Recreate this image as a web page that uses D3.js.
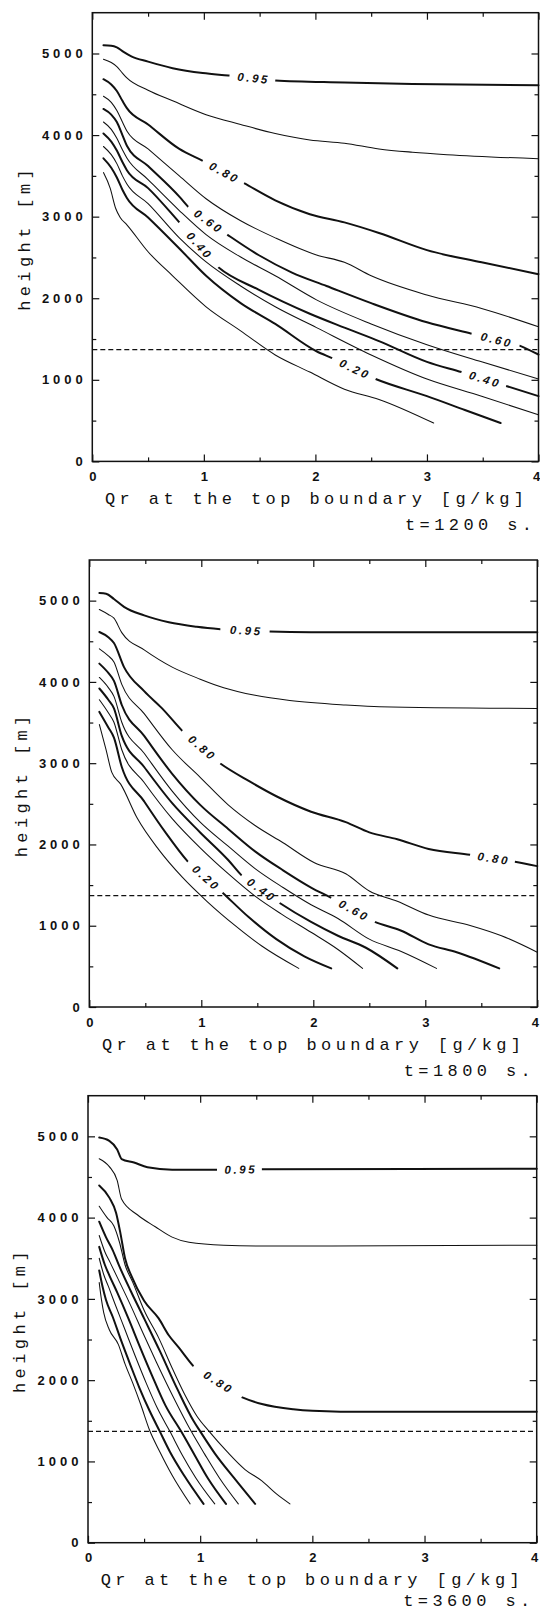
<!DOCTYPE html>
<html>
<head>
<meta charset="utf-8">
<script src="https://cdn.jsdelivr.net/npm/d3@7"></script>
<style>
  html, body { margin: 0; padding: 0; background: #fff; }
  svg { display: block; }
</style>
</head>
<body>
<svg id="fig" width="540" height="1612"></svg>
<script>
// Contour levels, from the top curve down to the bottom one
const levels = [0.95, 0.90, 0.80, 0.70, 0.60, 0.50, 0.40, 0.30, 0.20, 0.10];
const labelledLevels = [0.95, 0.80, 0.60, 0.40, 0.20];
const xTickValues = [0, 1, 2, 3, 4];
const xMinorTicks = [0.5, 1.5, 2.5, 3.5];
const yTickValues = [0, 1000, 2000, 3000, 4000, 5000];
const yMinorTicks = [500, 1500, 2500, 3500, 4500];
const refHeight = 1370;
const xTitle = "Qr at the top boundary [g/kg]";
const yTitle = "height [m]";
const timeLabels = ["t=1200 s.", "t=1800 s.", "t=3600 s."];

// [Qr (g/kg), height (m)] points for each level, t = 1200 s
const curves1200 = [
  [[0.10,5100],[0.17,5095],[0.22,5075],[0.28,5020],[0.35,4965],[0.50,4900],[0.72,4820],[0.99,4760],[1.22,4730],[1.64,4670],[2.26,4645],[2.87,4625],[4.0,4610]],
  [[0.10,4930],[0.17,4890],[0.22,4840],[0.27,4760],[0.31,4700],[0.50,4550],[0.72,4420],[1.02,4250],[1.33,4130],[1.64,4020],[1.95,3940],[2.26,3900],[2.57,3830],[2.87,3790],[3.18,3760],[4.0,3710]],
  [[0.10,4685],[0.17,4620],[0.22,4540],[0.27,4420],[0.31,4330],[0.50,4130],[0.78,3830],[0.99,3685],[1.36,3410],[1.64,3200],[1.95,3030],[2.26,2930],[2.57,2800],[3.0,2590],[3.49,2440],[4.0,2295]],
  [[0.10,4475],[0.17,4400],[0.22,4300],[0.27,4160],[0.31,4050],[0.50,3830],[0.78,3500],[1.02,3220],[1.33,2950],[1.64,2740],[2.01,2530],[2.26,2440],[2.5,2275],[3.0,2040],[3.49,1875],[4.0,1650]],
  [[0.10,4320],[0.17,4250],[0.22,4160],[0.27,4000],[0.31,3870],[0.50,3620],[0.78,3245],[0.86,3120],[1.21,2780],[1.49,2530],[1.79,2315],[2.1,2150],[2.5,1940],[3.0,1705],[3.4,1565],[3.83,1420],[4.0,1310]],
  [[0.10,4160],[0.17,4070],[0.22,3960],[0.27,3820],[0.31,3720],[0.50,3455],[0.78,3075],[1.02,2780],[1.33,2505],[1.64,2275],[2.01,1980],[2.5,1685],[3.0,1430],[3.49,1220],[4.0,1010]],
  [[0.10,4020],[0.17,3920],[0.22,3810],[0.27,3670],[0.31,3570],[0.50,3350],[0.78,2930],[1.13,2380],[1.49,2105],[1.95,1810],[2.26,1640],[2.57,1475],[3.0,1220],[3.31,1095],[3.71,925],[4.0,800]],
  [[0.10,3860],[0.17,3760],[0.22,3650],[0.27,3500],[0.31,3400],[0.50,3160],[0.78,2740],[1.02,2445],[1.33,2150],[1.64,1895],[2.01,1640],[2.5,1305],[3.0,1010],[3.49,800],[4.0,570]],
  [[0.10,3715],[0.17,3600],[0.22,3480],[0.27,3330],[0.31,3230],[0.50,2990],[0.78,2610],[1.02,2275],[1.33,1940],[1.64,1685],[2.01,1350],[2.15,1265],[2.54,1010],[3.0,800],[3.34,630],[3.66,470]],
  [[0.10,3540],[0.16,3350],[0.21,3100],[0.25,2990],[0.31,2900],[0.50,2570],[0.72,2275],[1.02,1895],[1.33,1600],[1.64,1305],[1.95,1095],[2.26,885],[2.57,760],[3.06,470]]
];

// t = 1800 s
const curves1800 = [
  [[0.09,5093],[0.15,5085],[0.22,5020],[0.31,4924],[0.49,4818],[0.71,4733],[0.96,4678],[1.17,4648],[1.61,4619],[1.98,4612],[4.0,4612]],
  [[0.09,4890],[0.17,4830],[0.22,4784],[0.29,4606],[0.49,4394],[0.74,4182],[0.99,4034],[1.2,3928],[1.48,3835],[1.79,3771],[2.29,3716],[2.59,3695],[4.0,3674]],
  [[0.09,4614],[0.17,4550],[0.22,4479],[0.31,4182],[0.49,3886],[0.65,3674],[0.83,3398],[1.17,2996],[1.42,2784],[1.67,2593],[1.98,2403],[2.29,2275],[2.5,2148],[2.75,2064],[3.03,1945],[3.4,1873],[3.8,1788],[4.0,1733]],
  [[0.09,4407],[0.17,4320],[0.22,4246],[0.29,3970],[0.49,3610],[0.74,3165],[0.99,2826],[1.24,2487],[1.48,2233],[1.73,2021],[2.01,1775],[2.29,1640],[2.5,1428],[2.75,1301],[3.03,1131],[3.4,1004],[3.68,877],[4.0,674]],
  [[0.09,4225],[0.17,4110],[0.22,4013],[0.29,3716],[0.49,3335],[0.74,2869],[0.99,2487],[1.24,2191],[1.48,1915],[1.73,1682],[1.98,1470],[2.16,1343],[2.55,1047],[2.78,941],[3.03,771],[3.28,674],[3.66,475]],
  [[0.09,4055],[0.17,3930],[0.22,3822],[0.29,3504],[0.49,3123],[0.74,2657],[0.99,2275],[1.24,1979],[1.48,1703],[1.73,1470],[1.98,1258],[2.22,1089],[2.5,835],[2.78,686],[3.1,475]],
  [[0.09,3919],[0.17,3780],[0.22,3674],[0.29,3335],[0.49,2953],[0.74,2508],[0.99,2148],[1.24,1809],[1.36,1619],[1.70,1280],[1.98,1047],[2.22,877],[2.47,729],[2.75,475]],
  [[0.09,3780],[0.17,3620],[0.22,3504],[0.29,3165],[0.49,2763],[0.74,2318],[0.99,1958],[1.24,1640],[1.48,1364],[1.73,1131],[1.98,919],[2.22,708],[2.44,475]],
  [[0.09,3631],[0.17,3440],[0.22,3314],[0.29,2953],[0.49,2530],[0.68,2148],[0.88,1788],[1.19,1407],[1.42,1110],[1.67,835],[1.92,623],[2.16,475]],
  [[0.09,3475],[0.15,3165],[0.2,2890],[0.28,2742],[0.43,2318],[0.62,1936],[0.83,1597],[1.05,1301],[1.3,1004],[1.54,750],[1.87,475]]
];

// t = 3600 s
const curves3600 = [
  [[0.10,4985],[0.19,4945],[0.26,4839],[0.30,4721],[0.41,4678],[0.53,4620],[0.75,4590],[1.15,4590],[1.55,4595],[4.0,4600]],
  [[0.10,4725],[0.19,4627],[0.26,4458],[0.30,4225],[0.44,4035],[0.60,3887],[0.75,3760],[0.90,3696],[1.21,3660],[1.68,3650],[4.0,3660]],
  [[0.10,4395],[0.19,4246],[0.25,4060],[0.29,3800],[0.33,3500],[0.39,3273],[0.50,2976],[0.63,2760],[0.72,2553],[0.81,2400],[0.94,2172],[1.37,1791],[1.55,1706],[1.83,1643],[2.0,1625],[2.5,1610],[4.0,1610]],
  [[0.10,4140],[0.17,4000],[0.23,3900],[0.28,3700],[0.33,3420],[0.40,3200],[0.50,2860],[0.63,2520],[0.75,2150],[0.86,1830],[0.97,1560],[1.08,1370],[1.24,1120],[1.40,900],[1.55,760],[1.68,600],[1.80,478]],
  [[0.10,3950],[0.16,3760],[0.22,3600],[0.28,3400],[0.38,3100],[0.50,2760],[0.64,2360],[0.80,1880],[0.94,1500],[1.00,1370],[1.13,1100],[1.30,800],[1.49,478]],
  [[0.10,3780],[0.15,3580],[0.20,3440],[0.27,3240],[0.38,2920],[0.49,2580],[0.61,2220],[0.75,1820],[0.92,1370],[1.04,1090],[1.17,800],[1.34,478]],
  [[0.10,3640],[0.15,3420],[0.19,3290],[0.26,3080],[0.36,2760],[0.46,2420],[0.57,2060],[0.69,1690],[0.83,1370],[0.95,1080],[1.07,790],[1.23,478]],
  [[0.10,3500],[0.14,3300],[0.18,3160],[0.24,2940],[0.33,2620],[0.42,2300],[0.52,1960],[0.62,1650],[0.73,1370],[0.84,1080],[0.96,800],[1.13,478]],
  [[0.10,3350],[0.13,3150],[0.16,2990],[0.22,2780],[0.30,2470],[0.38,2180],[0.46,1900],[0.55,1620],[0.64,1370],[0.73,1120],[0.86,820],[1.03,478]],
  [[0.10,3200],[0.12,2990],[0.14,2830],[0.19,2620],[0.27,2440],[0.33,2200],[0.40,1960],[0.47,1700],[0.55,1380],[0.64,1120],[0.75,830],[0.91,478]]
];

// Inline contour labels: curve index and the Qr span the label occupies
const labels1200 = [
  { curve: 0, from: 1.23, to: 1.64 },
  { curve: 2, from: 0.99, to: 1.36 },
  { curve: 4, from: 0.86, to: 1.21 },
  { curve: 6, from: 0.78, to: 1.13 },
  { curve: 8, from: 2.15, to: 2.54 },
  { curve: 4, from: 3.40, to: 3.83 },
  { curve: 6, from: 3.31, to: 3.71 }
];
const labels1800 = [
  { curve: 0, from: 1.17, to: 1.61 },
  { curve: 2, from: 0.83, to: 1.17 },
  { curve: 2, from: 3.40, to: 3.80 },
  { curve: 8, from: 0.88, to: 1.19 },
  { curve: 6, from: 1.36, to: 1.70 },
  { curve: 4, from: 2.16, to: 2.55 }
];
const labels3600 = [
  { curve: 0, from: 1.15, to: 1.55 },
  { curve: 2, from: 0.94, to: 1.37 }
];

// Panel frames (pixels) and text offsets
const panels = [
  { curves: curves1200, labels: labels1200, time: timeLabels[0],
    box: { left: 92.3, right: 538.5, top: 12.7, bottom: 461.4 }, yTitleX: 30, timeDy: 69 },
  { curves: curves1800, labels: labels1800, time: timeLabels[1],
    box: { left: 89.3, right: 537.3, top: 560, bottom: 1007 }, yTitleX: 26.5, timeDy: 69 },
  { curves: curves3600, labels: labels3600, time: timeLabels[2],
    box: { left: 88.0, right: 536.7, top: 1095.7, bottom: 1542.7 }, yTitleX: 25, timeDy: 63 }
];

const INK = "#111";
const tickFont = "'Liberation Sans', Arial, sans-serif";
const monoFont = "'Liberation Mono', 'DejaVu Sans Mono', monospace";
const tickLS = 4.0;
const titleLS = 4.4;
const labelLS = 2.6;

const svg = d3.select("#fig");
const defs = svg.append("defs");

function heightAt(curve, q) {
  for (let i = 0; i < curve.length - 1; i++) {
    const a = curve[i], b = curve[i + 1];
    if (q >= a[0] && q <= b[0]) {
      const t = (q - a[0]) / (b[0] - a[0]);
      return a[1] + t * (b[1] - a[1]);
    }
  }
  return curve[curve.length - 1][1];
}

panels.forEach((p, pi) => {
  const x = d3.scaleLinear().domain([0, 4]).range([p.box.left, p.box.right]);
  const y = d3.scaleLinear().domain([0, 5500]).range([p.box.bottom, p.box.top]);
  const g = svg.append("g").attr("class", "panel");

  const line = d3.line().x(d => x(d[0])).y(d => y(d[1])).curve(d3.curveMonotoneX);

  // Axes with inward ticks on all four sides
  const styleAxis = sel => {
    sel.select(".domain").remove();
    sel.selectAll(".tick line").attr("stroke", INK).attr("stroke-width", 1.2);
    sel.attr("font-family", tickFont).attr("font-size", 13).attr("font-weight", "bold");
    sel.selectAll("text").attr("fill", INK);
  };

  const bottomAxis = g.append("g").attr("transform", `translate(0,${p.box.bottom})`)
    .call(d3.axisBottom(x).tickValues(xTickValues).tickFormat(d3.format("d"))
      .tickSizeInner(-7).tickSizeOuter(0).tickPadding(10.5))
    .call(styleAxis);
  // keep the last tick label inside the page
  bottomAxis.selectAll(".tick text").filter(d => d === 4).attr("dx", -2.5);
  g.append("g").attr("transform", `translate(0,${p.box.bottom})`)
    .call(d3.axisBottom(x).tickValues(xMinorTicks).tickFormat("").tickSizeInner(-4).tickSizeOuter(0))
    .call(styleAxis);
  g.append("g").attr("transform", `translate(0,${p.box.top})`)
    .call(d3.axisTop(x).tickValues(xTickValues).tickFormat("").tickSizeInner(-7).tickSizeOuter(0))
    .call(styleAxis);
  g.append("g").attr("transform", `translate(0,${p.box.top})`)
    .call(d3.axisTop(x).tickValues(xMinorTicks).tickFormat("").tickSizeInner(-4).tickSizeOuter(0))
    .call(styleAxis);

  const leftAxis = g.append("g").attr("transform", `translate(${p.box.left},0)`)
    .call(d3.axisLeft(y).tickValues(yTickValues).tickFormat(d3.format("d"))
      .tickSizeInner(-7).tickSizeOuter(0).tickPadding(5.5))
    .call(styleAxis);
  leftAxis.selectAll("text").attr("letter-spacing", tickLS);
  g.append("g").attr("transform", `translate(${p.box.left},0)`)
    .call(d3.axisLeft(y).tickValues(yMinorTicks).tickFormat("").tickSizeInner(-4).tickSizeOuter(0))
    .call(styleAxis);
  g.append("g").attr("transform", `translate(${p.box.right},0)`)
    .call(d3.axisRight(y).tickValues(yTickValues).tickFormat("").tickSizeInner(-7).tickSizeOuter(0))
    .call(styleAxis);
  g.append("g").attr("transform", `translate(${p.box.right},0)`)
    .call(d3.axisRight(y).tickValues(yMinorTicks).tickFormat("").tickSizeInner(-4).tickSizeOuter(0))
    .call(styleAxis);

  // Frame
  g.append("rect")
    .attr("x", x(0)).attr("y", y(5500))
    .attr("width", x(4) - x(0)).attr("height", y(0) - y(5500))
    .attr("fill", "none").attr("stroke", INK).attr("stroke-width", 1.5);

  // Dashed reference height
  g.append("line")
    .attr("x1", x(0)).attr("x2", x(4))
    .attr("y1", y(refHeight)).attr("y2", y(refHeight))
    .attr("stroke", INK).attr("stroke-width", 1.4)
    .attr("stroke-dasharray", "5,3");

  // Contour lines with gaps for their inline labels
  p.curves.forEach((c, ci) => {
    const lvl = levels[ci];
    const thick = labelledLevels.includes(lvl);
    const path = g.append("path").datum(c)
      .attr("d", line)
      .attr("fill", "none")
      .attr("stroke", INK)
      .attr("stroke-width", thick ? 2.0 : 1.05)
      .attr("stroke-linejoin", "round")
      .attr("stroke-linecap", "round");

    const labs = p.labels.filter(l => l.curve === ci);
    if (!labs.length) return;

    const id = `gap-${pi}-${ci}`;
    const mask = defs.append("mask").attr("id", id)
      .attr("maskUnits", "userSpaceOnUse")
      .attr("x", 0).attr("y", 0).attr("width", 540).attr("height", 1612);
    mask.append("rect").attr("x", 0).attr("y", 0).attr("width", 540).attr("height", 1612).attr("fill", "white");

    labs.forEach(l => {
      const x1 = x(l.from), y1 = y(heightAt(c, l.from));
      const x2 = x(l.to), y2 = y(heightAt(c, l.to));
      const len = Math.hypot(x2 - x1, y2 - y1);
      const ang = Math.atan2(y2 - y1, x2 - x1) * 180 / Math.PI;
      const cx = (x1 + x2) / 2, cy = (y1 + y2) / 2;
      mask.append("rect")
        .attr("x", -len / 2).attr("y", -6).attr("width", len).attr("height", 12)
        .attr("transform", `translate(${cx},${cy}) rotate(${ang})`)
        .attr("fill", "black");
      g.append("text")
        .attr("transform", `translate(${cx},${cy}) rotate(${ang})`)
        .attr("text-anchor", "middle")
        .attr("dy", "0.36em")
        .attr("dx", labelLS / 2)
        .attr("font-family", tickFont)
        .attr("font-size", 11.5)
        .attr("font-weight", "bold")
        .attr("font-style", "italic")
        .attr("letter-spacing", labelLS)
        .attr("fill", INK)
        .text(lvl.toFixed(2));
    });
    path.attr("mask", `url(#${id})`);
  });

  // Axis titles and time stamp
  g.append("text")
    .attr("x", p.box.left + 12.7)
    .attr("y", p.box.bottom + 42.5)
    .attr("font-family", monoFont).attr("font-size", 17)
    .attr("letter-spacing", titleLS).attr("fill", INK)
    .text(xTitle);

  g.append("text")
    .attr("x", p.box.right - 6.5 + titleLS)
    .attr("y", p.box.bottom + p.timeDy)
    .attr("text-anchor", "end")
    .attr("font-family", monoFont).attr("font-size", 17)
    .attr("letter-spacing", titleLS).attr("fill", INK)
    .text(p.time);

  const midY = (p.box.top + p.box.bottom) / 2 + 3;
  g.append("text")
    .attr("transform", `translate(${p.yTitleX},${midY}) rotate(-90)`)
    .attr("text-anchor", "middle")
    .attr("dx", titleLS / 2)
    .attr("font-family", monoFont).attr("font-size", 17)
    .attr("letter-spacing", titleLS).attr("fill", INK)
    .text(yTitle);
});
</script>
</body>
</html>
